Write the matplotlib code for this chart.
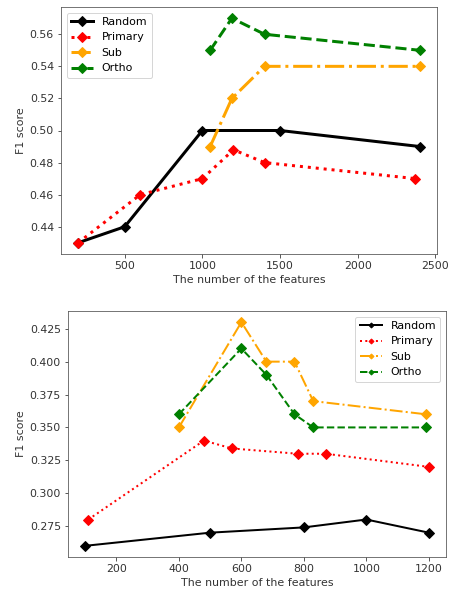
import matplotlib
matplotlib.use("Agg")
import matplotlib.pyplot as plt

# Top chart data
t_rand_x = [200, 500, 1000, 1500, 2400]
t_rand_y = [0.43, 0.44, 0.50, 0.50, 0.49]
t_prim_x = [200, 600, 1000, 1200, 1400, 2370]
t_prim_y = [0.43, 0.46, 0.47, 0.488, 0.48, 0.47]
t_sub_x = [1050, 1190, 1400, 2400]
t_sub_y = [0.49, 0.52, 0.54, 0.54]
t_orth_x = [1050, 1190, 1400, 2400]
t_orth_y = [0.55, 0.57, 0.56, 0.55]

# Bottom chart data
b_rand_x = [100, 500, 800, 1000, 1200]
b_rand_y = [0.26, 0.27, 0.274, 0.28, 0.27]
b_prim_x = [110, 480, 570, 780, 870, 1200]
b_prim_y = [0.28, 0.34, 0.334, 0.33, 0.33, 0.32]
b_sub_x = [400, 600, 680, 770, 830, 1190]
b_sub_y = [0.35, 0.43, 0.40, 0.40, 0.37, 0.36]
b_orth_x = [400, 600, 680, 770, 830, 1190]
b_orth_y = [0.36, 0.41, 0.39, 0.36, 0.35, 0.35]

labels = ["Random", "Primary", "Sub", "Ortho"]
colors = ["black", "red", "orange", "green"]
styles = ["-", ":", "-.", "--"]

plt.rcParams["font.size"] = 11

W, H = 449, 592
fig = plt.figure(figsize=(W / 72, H / 72), dpi=72)

ax1 = fig.add_axes([61 / W, 1 - 254 / H, (437 - 61) / W, (254 - 7) / H])
ax2 = fig.add_axes([68 / W, 1 - 557 / H, (446 - 68) / W, (557 - 311) / H])

for ax in (ax1, ax2):
    for s in ax.spines.values():
        s.set_color("#555555")
    ax.tick_params(colors="#333333", labelcolor="#333333")

top = [(t_rand_x, t_rand_y), (t_prim_x, t_prim_y), (t_sub_x, t_sub_y), (t_orth_x, t_orth_y)]
for (x, y), lab, c, ls in zip(top, labels, colors, styles):
    ax1.plot(x, y, ls, color=c, lw=3, marker="D", markersize=7, label=lab)
ax1.legend(loc="upper left")
ax1.set_xlabel("The number of the features", color="#333333")
ax1.set_ylabel("F1 score", color="#333333")
ax1.set_xticks([500, 1000, 1500, 2000, 2500])

bot = [(b_rand_x, b_rand_y), (b_prim_x, b_prim_y), (b_sub_x, b_sub_y), (b_orth_x, b_orth_y)]
for (x, y), lab, c, ls in zip(bot, labels, colors, styles):
    ax2.plot(x, y, ls, color=c, lw=2, marker="D", markersize=7, label=lab)
ax2.legend(loc="upper right", markerscale=0.5)
ax2.set_xlabel("The number of the features", color="#333333")
ax2.set_ylabel("F1 score", color="#333333")
ax2.set_xticks([200, 400, 600, 800, 1000, 1200])

fig.savefig("out.png", dpi=72)
